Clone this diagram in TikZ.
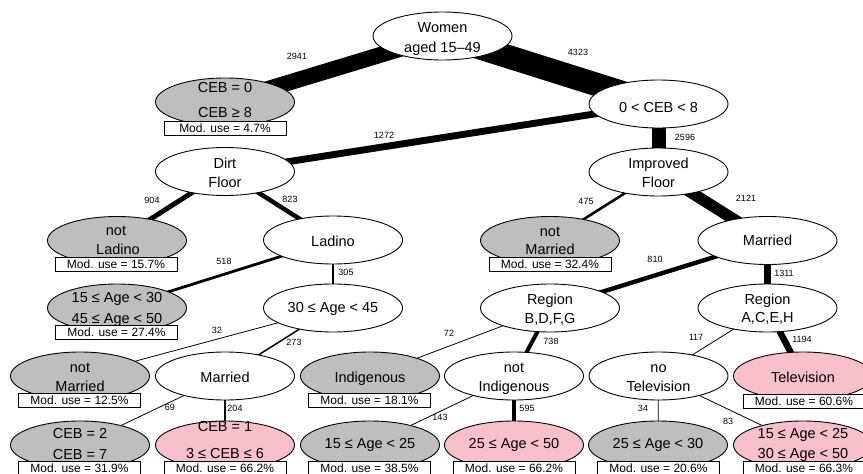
\documentclass[tikz,border=0pt]{standalone}
\usepackage{fontspec}
\setmainfont{Liberation Sans}
\usetikzlibrary{shapes.geometric}
\definecolor{termgray}{RGB}{190,190,190}
\definecolor{termpink}{RGB}{248,192,203}
\pgfdeclarelayer{bg}
\pgfsetlayers{bg,main}
\tikzset{
  nd/.style={ellipse, draw, line width=0.9pt, minimum width=139pt, minimum height=48pt, inner sep=0pt, fill=white},
  gr/.style={nd, fill=termgray},
  pk/.style={nd, fill=termpink},
  mbox/.style={rectangle, draw, fill=white, line width=0.8pt, minimum width=122pt, minimum height=14pt, inner sep=0pt, font=\fontsize{12}{12}\selectfont},
  txt/.style={anchor=base, inner sep=0pt, font=\fontsize{14.5}{14.5}\selectfont},
  num/.style={inner sep=0pt, font=\fontsize{9}{9}\selectfont},
  br/.style={line width=#1, line cap=butt}
}
\begin{document}
\begin{tikzpicture}[x=1pt,y=-1pt]
\useasboundingbox (0,0) rectangle (863,474);
\clip (0,0) rectangle (863,474);
% ---------- ellipses ----------
\node[nd] (root) at (442.5,36) {};
\node[gr] (t1) at (225,102) {};
\node[nd] (c08) at (658.5,104) {};
\node[nd] (dirt) at (225,171.5) {};
\node[nd] (impr) at (658.5,172) {};
\node[gr] (nlad) at (117,240.5) {};
\node[nd] (lad) at (333,240) {};
\node[gr] (nmar) at (550,240.5) {};
\node[nd] (mar) at (767.5,240.5) {};
\node[gr] (a1530) at (117,308) {};
\node[nd] (a3045) at (333,308) {};
\node[nd] (rbdfg) at (550,308) {};
\node[nd] (raceh) at (767.5,308) {};
\node[gr] (nmar2) at (80,376) {};
\node[nd] (mar2) at (225,376) {};
\node[gr] (indig) at (370,376) {};
\node[nd] (nindig) at (514,376) {};
\node[nd] (notv) at (658.5,376) {};
\node[pk] (tv) at (803,376) {};
\node[gr] (ceb27) at (80,445) {};
\node[pk] (ceb1) at (225,445) {};
\node[gr] (a1525) at (370,445) {};
\node[pk] (a2550) at (514,445) {};
\node[gr] (a2530) at (658,445) {};
\node[pk] (a1525b) at (803,445) {};
% ---------- ellipse texts ----------
\node[txt] (root-a) at (442.5,32) {Women};
\node[txt] (root-b) at (442.5,52) {aged 15–49};
\node[txt] (t1-a) at (225,92) {CEB = 0};
\node[txt] (t1-b) at (225,117) {CEB ≥ 8};
\node[txt] (c08-a) at (658.5,112) {0 < CEB < 8};
\node[txt] (dirt-a) at (225,168) {Dirt};
\node[txt] (dirt-b) at (225,187) {Floor};
\node[txt] (impr-a) at (658.5,168) {Improved};
\node[txt] (impr-b) at (658.5,187) {Floor};
\node[txt] (nlad-a) at (116,235) {not};
\node[txt] (nlad-b) at (118,254) {Ladino};
\node[txt] (lad-a) at (333,246) {Ladino};
\node[txt] (nmar-a) at (550,236) {not};
\node[txt] (nmar-b) at (550,254) {Married};
\node[txt] (mar-a) at (767.5,245) {Married};
\node[txt] (a1530-a) at (117,302) {15 ≤ Age < 30};
\node[txt] (a1530-b) at (117,323) {45 ≤ Age < 50};
\node[txt] (a3045-a) at (333,312) {30 ≤ Age < 45};
\node[txt] (rbdfg-a) at (550,304) {Region};
\node[txt] (rbdfg-b) at (550,323) {B,D,F,G};
\node[txt] (raceh-a) at (767.5,304) {Region};
\node[txt] (raceh-b) at (767.5,322) {A,C,E,H};
\node[txt] (nmar2-a) at (80,372) {not};
\node[txt] (nmar2-b) at (80,391) {Married};
\node[txt] (mar2-a) at (225,382) {Married};
\node[txt] (indig-a) at (370,382) {Indigenous};
\node[txt] (nindig-a) at (514,372) {not};
\node[txt] (nindig-b) at (514,391) {Indigenous};
\node[txt] (notv-a) at (658.5,372) {no};
\node[txt] (notv-b) at (658.5,391) {Television};
\node[txt] (tv-a) at (803,382) {Television};
\node[txt] (ceb27-a) at (80,438) {CEB = 2};
\node[txt] (ceb27-b) at (80,459) {CEB = 7};
\node[txt] (ceb1-a) at (225,431) {CEB = 1};
\node[txt] (ceb1-b) at (225,458) {3 ≤ CEB ≤ 6};
\node[txt] (a1525-a) at (370,448) {15 ≤ Age < 25};
\node[txt] (a2550-a) at (514,448) {25 ≤ Age < 50};
\node[txt] (a2530-a) at (658,448) {25 ≤ Age < 30};
\node[txt] (a1525b-a) at (803,438) {15 ≤ Age < 25};
\node[txt] (a1525b-b) at (803,458) {30 ≤ Age < 50};
% ---------- model-use boxes ----------
\node[mbox] (t1-m) at (225,128.5) {Mod. use = 4.7\%};
\node[mbox] (nlad-m) at (116,264) {Mod. use = 15.7\%};
\node[mbox] (nmar-m) at (550,264) {Mod. use = 32.4\%};
\node[mbox] (a1530-m) at (116.5,332.5) {Mod. use = 27.4\%};
\node[mbox] (nmar2-m) at (79.5,400) {Mod. use = 12.5\%};
\node[mbox] (indig-m) at (369.5,400) {Mod. use = 18.1\%};
\node[mbox] (tv-m) at (804,401) {Mod. use = 60.6\%};
\node[mbox] (ceb27-m) at (79.5,468) {Mod. use = 31.9\%};
\node[mbox] (ceb1-m) at (225,468) {Mod. use = 66.2\%};
\node[mbox] (a1525-m) at (369.5,468) {Mod. use = 38.5\%};
\node[mbox] (a2550-m) at (514,468) {Mod. use = 66.2\%};
\node[mbox] (a2530-m) at (658.5,468) {Mod. use = 20.6\%};
\node[mbox] (a1525b-m) at (804,468) {Mod. use = 66.3\%};
% ---------- branches ----------
\begin{pgfonlayer}{bg}
\draw[br=15.9pt] (root.center) -- (t1.center);
\draw[br=23.4pt] (root.center) -- (c08.center);
\draw[br=6.9pt] (c08.center) -- (dirt.center);
\draw[br=14pt] (c08.center) -- (impr.center);
\draw[br=4.9pt] (dirt.center) -- (nlad.center);
\draw[br=4.45pt] (dirt.center) -- (lad.center);
\draw[br=2.57pt] (impr.center) -- (nmar.center);
\draw[br=11.5pt] (impr.center) -- (mar.center);
\draw[br=2.8pt] (lad.center) -- (a1530.center);
\draw[br=1.65pt] (lad.center) -- (a3045.center);
\draw[br=4.4pt] (mar.center) -- (rbdfg.center);
\draw[br=7.1pt] (mar.center) -- (raceh.center);
\draw[br=0.8pt] (a3045.center) -- (nmar2.center);
\draw[br=1.48pt] (a3045.center) -- (mar2.center);
\draw[br=0.8pt] (rbdfg.center) -- (indig.center);
\draw[br=4pt] (rbdfg.center) -- (nindig.center);
\draw[br=0.8pt] (raceh.center) -- (notv.center);
\draw[br=6.45pt] (raceh.center) -- (tv.center);
\draw[br=0.8pt] (mar2.center) -- (ceb27.center);
\draw[br=1.1pt] (mar2.center) -- (ceb1.center);
\draw[br=0.8pt] (nindig.center) -- (a1525.center);
\draw[br=3.2pt] (nindig.center) -- (a2550.center);
\draw[br=0.8pt] (notv.center) -- (a2530.center);
\draw[br=0.8pt] (notv.center) -- (a1525b.center);
\end{pgfonlayer}
% ---------- branch counts ----------
\node[num] (n2941) at (297,56) {2941};
\node[num] (n4323) at (578,52) {4323};
\node[num] (n1272) at (384,135) {1272};
\node[num] (n2596) at (685,137) {2596};
\node[num] (n904) at (152,200) {904};
\node[num] (n823) at (290,199) {823};
\node[num] (n475) at (586,201) {475};
\node[num] (n2121) at (746,198) {2121};
\node[num] (n518) at (224,261) {518};
\node[num] (n305) at (346,272) {305};
\node[num] (n810) at (655,259) {810};
\node[num] (n1311) at (784,273) {1311};
\node[num] (n32) at (217,330) {32};
\node[num] (n273) at (294,342) {273};
\node[num] (n72) at (449,333) {72};
\node[num] (n738) at (551,341) {738};
\node[num] (n117) at (696,337) {117};
\node[num] (n1194) at (802,339) {1194};
\node[num] (n69) at (170,407) {69};
\node[num] (n204) at (235,408) {204};
\node[num] (n143) at (440,417) {143};
\node[num] (n595) at (527,408) {595};
\node[num] (n34) at (643,408) {34};
\node[num] (n83) at (728,421) {83};
\end{tikzpicture}
\end{document}
